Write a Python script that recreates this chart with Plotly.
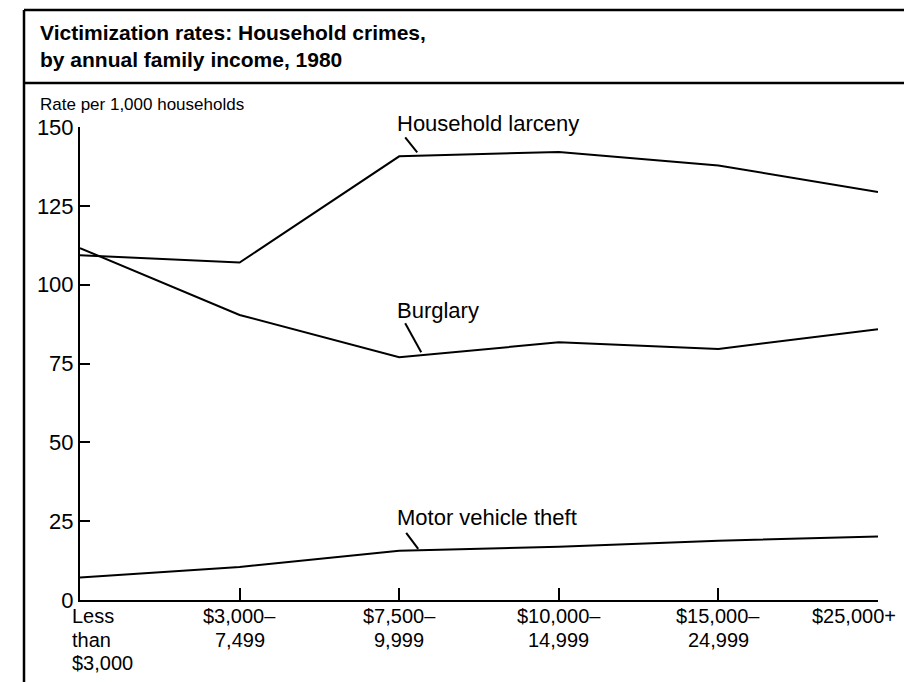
import plotly.graph_objects as go

# Rate per 1,000 households, 1980, by annual family income
income_labels = [
    "Less<br>than<br>$3,000",
    "$3,000–<br>7,499",
    "$7,500–<br>9,999",
    "$10,000–<br>14,999",
    "$15,000–<br>24,999",
    "$25,000+",
]
household_larceny = [109.3, 107.0, 140.7, 142.1, 137.8, 129.4]
burglary = [111.6, 90.4, 77.0, 81.7, 79.6, 85.9]
motor_vehicle_theft = [7.1, 10.5, 15.6, 16.9, 18.8, 20.1]
y_ticks = [0, 25, 50, 75, 100, 125, 150]

# the page body adds an 8px margin, so the figure is drawn 8px smaller
# and all layout positions below are page pixels minus that offset
OFF = 8
W, H = 912 - OFF, 682 - OFF
PL, PR, PT, PB = 80 - OFF, 878 - OFF, 127 - OFF, 600 - OFF
FONT = "Liberation Sans, Arial, sans-serif"


def px_x(p):
    return (p - OFF - PL) / (PR - PL)


def px_y(p):
    return (PB - (p - OFF)) / (PB - PT)


x = list(range(len(income_labels)))

fig = go.Figure()
for name, vals in [
    ("Household larceny", household_larceny),
    ("Burglary", burglary),
    ("Motor vehicle theft", motor_vehicle_theft),
]:
    fig.add_trace(go.Scatter(
        x=x, y=vals, name=name, mode="lines",
        line=dict(color="black", width=2),
        hovertemplate="%{y}<extra>" + name + "</extra>",
    ))

annotations = []
shapes = []

# series labels with short leader lines, anchored to the $7,500 point
for text, vals, lift, leader in [
    ("Household larceny", household_larceny, 33, (6, 19, 18, 4)),
    ("Burglary", burglary, 47, (6, 34, 22, 5)),
    ("Motor vehicle theft", motor_vehicle_theft, 33, (7, 18, 19, 2)),
]:
    annotations.append(dict(
        x=2, y=vals[2], xref="x", yref="y", text=text, showarrow=False,
        xanchor="left", yanchor="middle", xshift=-4, yshift=lift,
        font=dict(family=FONT, size=22, color="black"),
    ))
    shapes.append(dict(
        type="line", xref="x", yref="y", xsizemode="pixel", ysizemode="pixel",
        xanchor=2, yanchor=vals[2],
        x0=leader[0], y0=leader[1], x1=leader[2], y1=leader[3],
        line=dict(color="black", width=2),
    ))

# category labels under the axis, one annotation per text row
row_centers = [616, 640, 663]
for i, lab in enumerate(income_labels):
    for r, part in enumerate(lab.split("<br>")):
        if i == 0:
            ann = dict(x=px_x(70), xref="paper", xanchor="left")
        else:
            ann = dict(x=i, xref="x", xanchor="center",
                       xshift=-24 if i == len(income_labels) - 1 else 0)
        ann.update(
            y=px_y(row_centers[r]), yref="paper", yanchor="middle",
            text=part, showarrow=False,
            font=dict(family=FONT, size=20, color="black"),
        )
        annotations.append(ann)

# title block
annotations.append(dict(
    x=px_x(38), y=px_y(46), xref="paper", yref="paper",
    xanchor="left", yanchor="middle", align="left", showarrow=False,
    text="<b>Victimization rates: Household crimes,<br>by annual family income, 1980</b>",
    font=dict(family=FONT, size=21, color="black"),
))
annotations.append(dict(
    x=px_x(38), y=px_y(105), xref="paper", yref="paper",
    xanchor="left", yanchor="middle", showarrow=False,
    text="Rate per 1,000 households",
    font=dict(family=FONT, size=17, color="black"),
))

# frame lines around title block
for x0, y0, x1, y1 in [(24, 10, 912, 10), (24, 83, 912, 83), (24, 10, 24, 682)]:
    shapes.append(dict(
        type="line", xref="paper", yref="paper",
        x0=px_x(x0), y0=px_y(y0), x1=px_x(x1), y1=px_y(y1),
        line=dict(color="black", width=2.5),
    ))

fig.update_layout(
    width=W, height=H, autosize=False,
    margin=dict(l=PL, r=W - PR, t=PT, b=H - PB),
    paper_bgcolor="white", plot_bgcolor="white",
    showlegend=False,
    font=dict(family=FONT, color="black"),
    xaxis=dict(
        range=[0, len(income_labels) - 1], tickvals=x, showticklabels=False,
        ticks="inside", ticklen=12, tickwidth=1.5, tickcolor="black",
        showline=True, linecolor="black", linewidth=2,
        showgrid=False, zeroline=False,
    ),
    yaxis=dict(
        range=[0, 150], tickvals=y_ticks,
        ticks="inside", ticklen=10, tickwidth=2, tickcolor="black",
        tickfont=dict(family=FONT, size=22, color="black"),
        showline=True, linecolor="black", linewidth=2,
        showgrid=False, zeroline=False,
    ),
    annotations=annotations,
    shapes=shapes,
)

fig.write_html("out.html")
